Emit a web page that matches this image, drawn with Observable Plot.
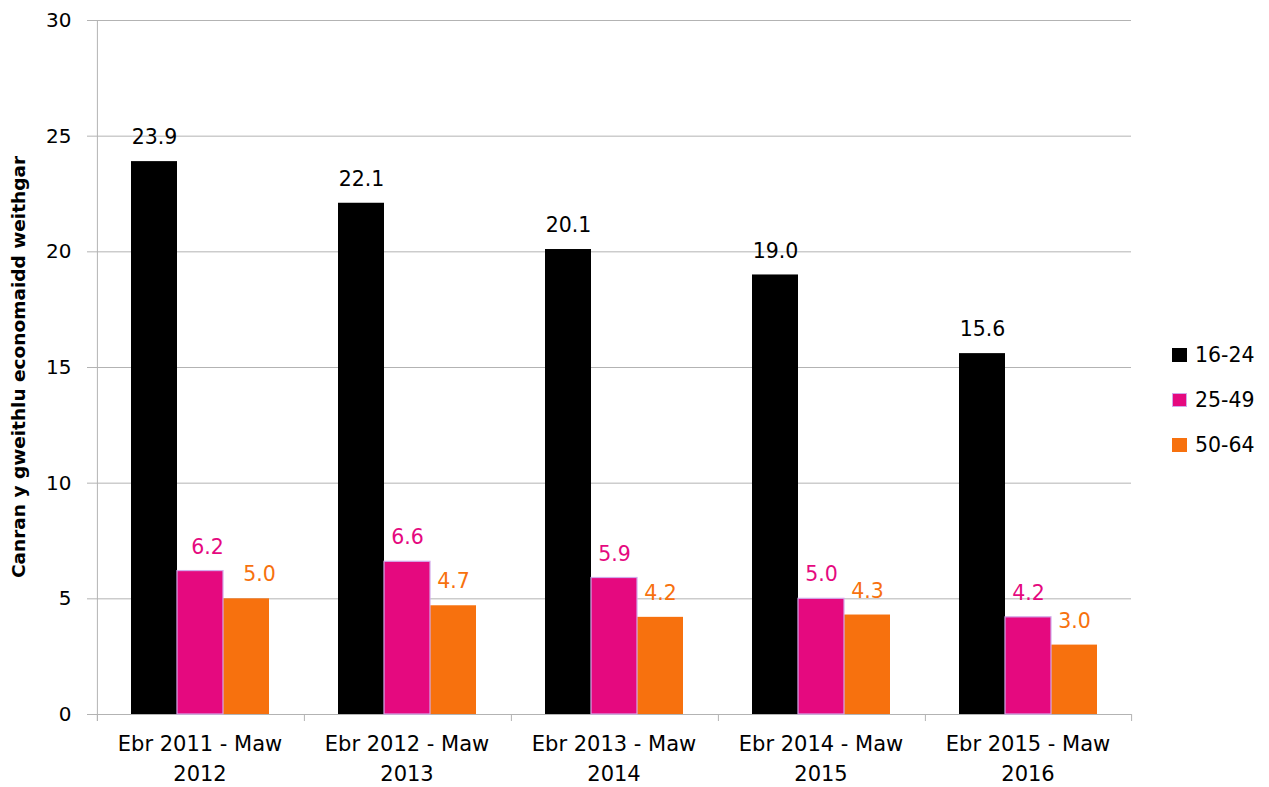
<!DOCTYPE html>
<html>
<head>
<meta charset="utf-8">
<script src="https://cdn.jsdelivr.net/npm/d3@7"></script>
<script src="https://cdn.jsdelivr.net/npm/@observablehq/plot@0.6"></script>
<style>
  html, body { margin: 0; padding: 0; background: #fff; }
  #wrap { position: relative; width: 1269px; height: 787px; font-family: "DejaVu Sans", sans-serif; }
  #ylabel { position: absolute; left: 18px; top: 367px; transform: translate(-50%, -50%) rotate(-90deg); white-space: nowrap; font-weight: bold; font-size: 18.5px; color: #000; }
  #legend { position: absolute; left: 1172px; top: 332px; }
  .item { display: flex; align-items: center; height: 45px; font-size: 20.5px; color: #000; }
  .sw { width: 15px; height: 14px; margin-right: 8px; box-sizing: border-box; }
</style>
</head>
<body>
<div id="wrap">
  <div id="chart"></div>
  <div id="ylabel"></div>
  <div id="legend"></div>
</div>
<script>
const periods = ["Ebr 2011 - Maw 2012", "Ebr 2012 - Maw 2013", "Ebr 2013 - Maw 2014", "Ebr 2014 - Maw 2015", "Ebr 2015 - Maw 2016"];
const series = ["16-24", "25-49", "50-64"];
const v1624 = [23.9, 22.1, 20.1, 19.0, 15.6];
const v2549 = [6.2, 6.6, 5.9, 5.0, 4.2];
const v5064 = [5.0, 4.7, 4.2, 4.3, 3.0];
const colors = ["#000000", "#e5097f", "#f7710e"];
const labelColors = ["#000000", "#e5097f", "#f7710e"];
const yTicks = [0, 5, 10, 15, 20, 25, 30];
const yTitle = "Canran y gweithlu economaidd weithgar";

const values = [v1624, v2549, v5064];
const data = periods.flatMap((p, i) => series.map((s, j) => ({period: p, group: s, value: values[j][i]})));

const W = 1269, H = 787, mL = 95, mR = 138, mT = 20, mB = 73;
const padOuter = 0.728;
const facetW = (W - mL - mR) / periods.length;
const step = facetW / (series.length + 2 * padOuter);
const edgeOffset = padOuter * step + step / 2;
const gray = "#b3b3b3";
const firstDx = [0, 7, 13];

const labelMarks = series.flatMap((s, j) => [
  Plot.text(data.filter(d => d.group === s && d.period !== periods[0]), {
    fx: "period", x: "group", y: "value", text: d => d.value.toFixed(1),
    fill: labelColors[j], fontSize: 20.5, dy: -24, lineAnchor: "middle"
  }),
  Plot.text(data.filter(d => d.group === s && d.period === periods[0]), {
    fx: "period", x: "group", y: "value", text: d => d.value.toFixed(1),
    fill: labelColors[j], fontSize: 20.5, dy: -24, dx: firstDx[j], lineAnchor: "middle"
  })
]);

const chart = Plot.plot({
  width: W, height: H,
  marginLeft: mL, marginRight: mR, marginTop: mT, marginBottom: mB,
  style: {fontFamily: "DejaVu Sans, sans-serif", fontSize: "19px", color: "#000", background: "#fff"},
  fx: {domain: periods, padding: 0, axis: null},
  x: {domain: series, paddingInner: 0, paddingOuter: padOuter, axis: null},
  y: {domain: [0, 30], axis: null},
  color: {domain: series, range: colors},
  marks: [
    Plot.gridY(yTicks, {stroke: gray, strokeOpacity: 1}),
    Plot.barY(data.filter(d => d.group !== "25-49"), {fx: "period", x: "group", y: "value", fill: "group"}),
    Plot.barY(data.filter(d => d.group === "25-49"), {fx: "period", x: "group", y: "value", fill: "group", stroke: "#d2a9ea", strokeWidth: 1.2}),
    Plot.tickX([periods[0]], {fx: d => d, x: () => series[0], dx: -edgeOffset, stroke: gray, insetBottom: -7}),
    Plot.tickX(periods, {fx: d => d, x: () => series[0], dx: -edgeOffset, stroke: gray, insetTop: H - mT - mB, insetBottom: -7}),
    Plot.tickX([periods[periods.length - 1]], {fx: d => d, x: () => series[series.length - 1], dx: edgeOffset, stroke: gray, insetTop: H - mT - mB, insetBottom: -7}),
    Plot.axisY(yTicks, {tickSize: 9, tickPadding: 16, stroke: gray, fontSize: 20, label: null}),
    Plot.axisFx({anchor: "bottom", tickSize: 0, tickPadding: 15, fontSize: 21, lineHeight: 1.43, label: null,
      tickFormat: d => { const k = d.lastIndexOf(" "); return d.slice(0, k) + "\n" + d.slice(k + 1); }}),
    ...labelMarks
  ]
});
document.getElementById("chart").appendChild(chart);
document.getElementById("ylabel").textContent = yTitle;

const legend = document.getElementById("legend");
series.forEach((s, j) => {
  const it = document.createElement("div");
  it.className = "item";
  const sw = document.createElement("div");
  sw.className = "sw";
  sw.style.background = colors[j];
  if (s === "25-49") sw.style.border = "1.5px solid #d2a9ea";
  const t = document.createElement("span");
  t.textContent = s;
  it.appendChild(sw); it.appendChild(t);
  legend.appendChild(it);
});
</script>
</body>
</html>
